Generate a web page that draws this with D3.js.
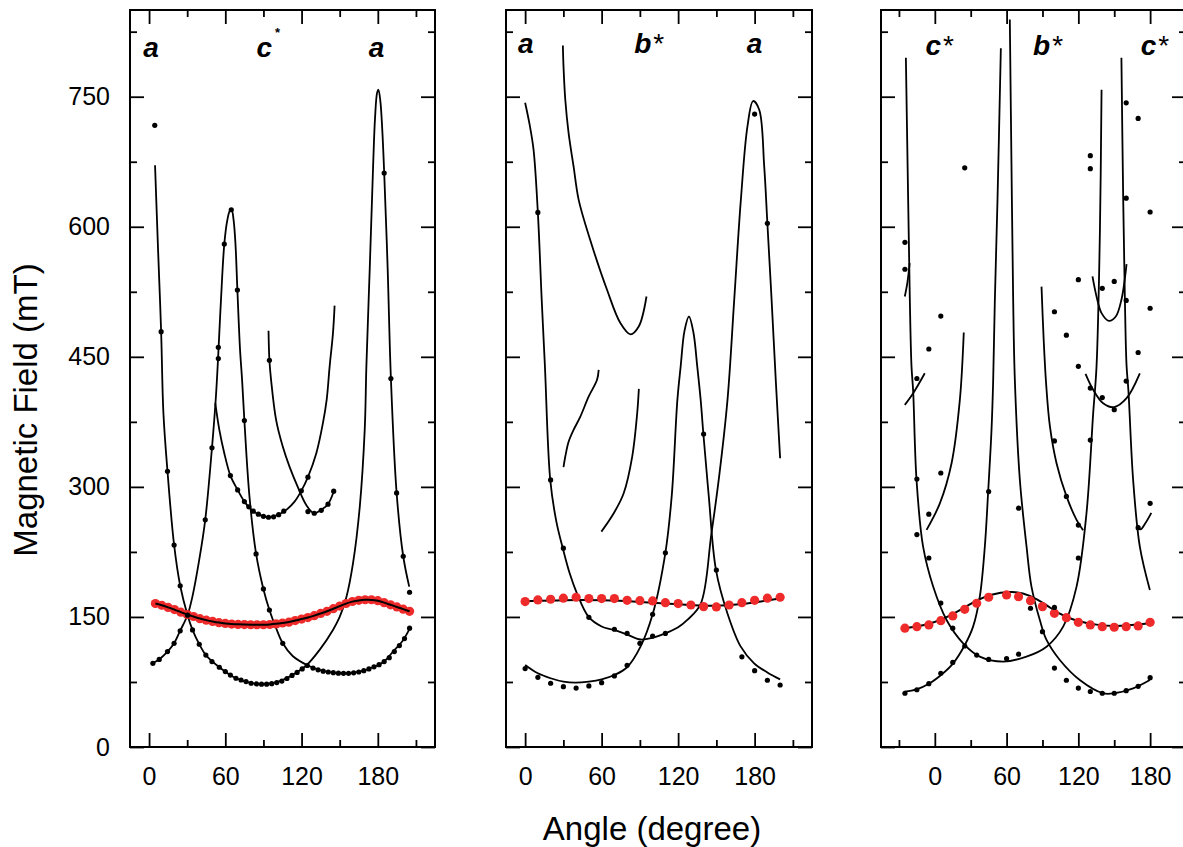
<!DOCTYPE html>
<html>
<head>
<meta charset="utf-8">
<script src="https://cdn.jsdelivr.net/npm/d3@7"></script>
<style>
  body { margin: 0; background: #fff; }
  svg { display: block; font-family: "Liberation Sans", Arial, Helvetica, sans-serif; }
</style>
</head>
<body>
<svg id="chart" width="1183" height="847"></svg>
<script>
// ---- panel 1 (a - c* - a) ----
const p1RedAngle = d3.range(5, 206, 5);
const p1RedField = [165.5,163.5,161,158.5,155.5,152.8,150.5,148,146.3,144.8,143.4,142.5,141.8,141.4,141.2,141,141,141,141.3,142,
  143,144,145.8,147.5,149.3,151.5,154,156.5,159.5,162.5,165.5,167.8,169.2,169.8,169.8,168.8,166.5,164,161.5,159,156.5];
const p1CurveA = [[4.7,671],[7.1,573],[9.5,479],[11.3,385],[14.5,318],[19.7,233],[24.5,186],[30.3,152],[34.2,135],[39.5,118.5],
  [44.7,106],[55.3,92],[68.4,79.3],[80,74],[89.5,72.7],[100,74.5],[108,79.3],[116,86],[123.7,94],[134.2,112],[144.7,135],
  [150,150],[155.3,173],[160.5,212],[165.8,277],[169.7,366],[171,439],[173.7,554],[176.3,670],[177.8,725],[179.5,755],
  [180.5,758],[182,745],[183.5,712],[185,663],[187.7,554],[190.3,425],[194.8,293],[200,220],[204.7,185]];
const p1CurveB = [[2.6,96.5],[7.9,101],[14.5,110],[19.7,119.6],[24.5,134.2],[30.3,152.3],[34.2,174],[39.5,216],[44.2,262],
  [49.5,345],[52.6,404],[54.5,454],[56.6,516],[59.2,580],[61.5,607],[63.5,618],[65,619],[66.5,608],[68,580],[69.5,527],
  [71.6,458],[73.2,423.5],[75,376.5],[79,289],[84.2,223],[90,182],[94.7,158],[100,137],[105.2,119.6],[113,105],[125,94],
  [134.2,88.8],[144.7,85.7],[155.3,85],[165.8,86.9],[176.3,92],[184.2,97.7],[192,110],[200,123.5],[205.3,137]];
const p1CurveC = [[52.1,396.5],[55.3,365.8],[59.2,338.8],[64,313],[69.7,296.5],[75,283],[80.3,274],[86.8,267.7],[94.7,265],
  [101.3,267.7],[108,273.5],[114.5,283],[119.8,295.4],[125,311.2],[131.6,338.8],[136.8,373.5],[139.8,401],[142.1,439],
  [144.7,477],[146,509]];
const p1CurveD = [[94,480],[94.7,446],[96,423.5],[100,377],[105.2,346.5],[110.5,323.4],[117,300],[123.7,279],[129.7,269.6],
  [135.5,273.5],[140.8,280],[145.3,294.6]];
const p1Dots = [[4.5,717],[9.5,479],[14.5,318],[19.7,233],[24.5,186],[30.3,152],[34.2,135],[39.5,118.5],[44.7,106],[49.5,98.5],
  [55.3,92],[60,87],[64,83],[68.4,79.3],[72.4,77.3],[76.3,75.4],[80.3,73.5],[84.5,72.7],[88.5,72.5],[92.5,72.5],[96.5,73],
  [100.5,74.3],[104.5,76],[108.5,79],[112.5,82.5],[116.5,86],[120.5,90],[124.5,94],
  [185,662],[190.3,425],[194.8,293],[200,220],[205,178.5],
  [3,96.5],[8,101],[14.5,110],[19.7,119.6],[24.5,134],[44.2,262],[49.5,345],[54.5,448],[54.5,461],[59.2,580],[64.7,619.6],
  [69.5,527],[75,376.5],[84.2,222.7],[90,182.3],[94.7,158],[105.2,119.6],[129,91],[133,89],[137,87.5],[141,86.5],[145,85.7],
  [149,85.2],[153,85],[157,85],[161,85.5],[165,86.5],[169,88],[173,90],[177,92.5],[181,95],[185,98.5],[189,103],[193,110],
  [197,117],[201,125],[205,137],
  [64,313],[69.7,296.5],[75,283],[78.5,277],[82,272],[86,268.5],[90,266],[94,265],[98,265.5],[102,268],[106,272],
  [119.8,295.4],[125,311.2],
  [94.7,446],[125,271.5],[130,269.6],[135.5,273],[140.8,280],[145.3,295]];

// ---- panel 2 (a - b* - a) ----
const p2RedAngle = d3.range(0, 201, 10);
const p2RedField = [167.7,169.6,170.4,171.6,172.7,171.2,171.2,171.2,169.2,168.8,168.5,166.5,165.4,163.8,161.9,161.5,163.8,
  166.5,169.2,171.6,172.7];
const p2Fit = [[0,168],[30,169.5],[60,169.5],[90,167.5],[120,164.5],[150,162],[170,164.5],[190,169],[200,171.5]];
const p2CurveE = [[0,743],[3.5,718],[6.6,689],[10,616],[13,516],[15.5,440],[19.7,308],[24.5,260],[29.6,229],[35,200],
  [40.7,177],[49.8,150],[60,139],[69.5,135],[79.5,130],[90.5,124],[100,126],[110,131],[120,138],[127.2,146.5],[137.7,165],
  [146,245],[152,310],[158.7,400],[164,516],[169.2,631],[174.4,716],[178.8,745],[183.6,735],[187.5,670],[190,604],
  [193.3,516],[196.7,420],[200,333]];
const p2CurveF = [[0,94.6],[10,85],[20,79.3],[30,75.4],[39.3,74.2],[50,75.4],[60,78],[70,83],[80,92],[90.5,115.7],[100,153],
  [110,224],[115,290],[119.4,400],[122,439],[125,480],[128.5,496.5],[132,478],[135,439],[137.7,400],[139.8,361],[144,290],
  [149.7,204],[158.7,154],[169,116],[179.6,96.5],[190,86],[200,78]];
const p2CurveG = [[29.6,809],[30.1,785],[31.5,746.5],[34.1,708],[38,669.6],[42,631],[51,585],[64.3,527],[74.7,489],
  [82.6,476],[89.1,485],[95.2,519.6]];
const p2CurveH = [[30.1,322.7],[31.5,335],[34.1,352],[38,365.7],[43.3,381],[49.8,404],[56.4,423.5],[57.7,435]];
const p2CurveI = [[59.8,248.4],[69.5,269.6],[77.3,292.7],[84,335],[87.9,385],[89.2,413]];
const p2Dots = [[0,90.4],[10,80.4],[20,73.5],[30,69.6],[40,68],[50,70.4],[60,74.2],[70,82],[80,94.3],[90,119.6],[100,153],
  [110,224],[20,308],[30,229.3],[50,149.6],[70,135.8],[80,131],[100,128],[110,131],[140,361],[150,204],[170,104],[180,88],
  [190,77],[200,71.5],[10,616.5],[180,730],[190,604]];

// ---- panel 3 (c* - b* - c*) ----
const p3RedAngle = [-25,-15,-5,5,15,25,35,45,60,70,80,90,100,110,120,130,140,150,160,170,180];
const p3RedField = [137,138.8,140.8,145.7,151.2,158.8,165.8,172.7,175.4,173.4,168.8,161.9,154.2,149.2,143.8,140.8,138.8,
  138.1,138.8,139.6,143.8];
const p3Fit = [[-25,137],[-9.7,139.6],[9.8,148.5],[29.3,165],[46,176.5],[65.5,180.3],[79.4,175.4],[93.4,163.8],[104.5,153],
  [115.6,146.5],[135.2,140.4],[154.7,138.8],[180,142.7]];
const p3CurveP = [[-24.2,795],[-22.3,631],[-20.9,516],[-19.5,439],[-18.1,410],[-15.3,308],[-9.8,231],[-1.4,185],[9.8,146.5],
  [23.7,119.6],[37.6,104.2],[57.1,98.5],[76.6,104.2],[93.4,115.7],[107.3,138.8],[118.5,185],[126.8,269.6],[132.4,385],
  [135.2,439],[138,593],[139.4,758]];
const p3CurvePRight = [[156,795],[157.5,631],[158.9,516],[160.3,440],[161.9,410],[165.8,308],[171.4,231],[179.8,181]];
const p3CurveQRise = [[-25.1,63.8],[-15.3,66.5],[-4.2,73.5],[6.9,85],[15.3,96.5],[25.1,117.7],[32,138.8],[37.6,173.4],
  [41.8,231],[44.6,294.6],[47.4,365.8],[48.8,423.5],[50.2,516],[52.4,631],[55.2,806]];
const p3CurveQFall = [[62.7,839],[64.1,670],[65.5,516],[66.9,423.5],[71.1,308],[76.7,231],[80.8,185],[87.8,146.5],
  [93.4,123.5],[104.5,100.4],[121.2,77.3],[140.7,62],[150,62],[165.8,67.7],[179.8,77.3]];
const p3CurveR = [[89.2,531],[91,470],[93,420],[96.2,370],[101.8,327],[110.1,289],[118.5,262],[124,250]];
const p3Bowl1 = [[131.8,542.7],[135.2,519.6],[139.4,500.4],[145.5,491.5],[151.3,496.5],[156,515.8],[160.3,557]];
const p3Bowl2 = [[126,430.4],[132.4,412],[140.7,396.5],[149.9,392],[160.3,402.3],[171.4,431]];
const p3SegS1 = [[-25.1,519.6],[-23,535],[-21,558]];
const p3SegS2 = [[-25.1,394.6],[-18.1,408],[-8.4,431]];
const p3SegS3 = [[-6.9,250.4],[4.2,281],[14,327.3],[20.9,400],[24.2,478]];
const p3SegS4 = [[169.5,256],[172,251],[176,258],[181,270]];
const p3Dots = [[-25,582],[-25,551],[25,668],[130,682],[130,667],[160,743],[170,725],[160,633],[180,617],
  [5,497],[-5,459],[-15,425],[120,539],[140,529],[150,537],[160,515],[180,506],[100,502],[110,475],[120,439],[170,455],
  [130,414],[140,403],[150,389],[160,422],[-15,309],[5,316],[-5,268.5],[-15,245],[45,294.6],[70,275.4],
  [100,353],[110,289],[120,256],[120,218],[130,354],[170,253],[180,281],
  [-5,218],[5,166],[15,137],[25,116.5],[35,106],[45,101],[60,102],[70,107],[80,160],[90,133],[100,161],
  [100,91],[110,77],[120,68],[130,64],[140,62],[150,62],[160,65],[170,70],[180,80],
  [-25,62],[-15,66],[-5,73],[5,85],[15,97.5]];

// ---- axes ----
const yMajor = [0, 150, 300, 450, 600, 750];
const yMinor = [75, 225, 375, 525, 675, 825];

const panels = [
  { left: 130, right: 435, domain: [-15, 225], xMajor: [0, 60, 120, 180], xMinor: [30, 90, 150, 210], yLabels: true,
    red: d3.zip(p1RedAngle, p1RedField), fit: d3.zip(p1RedAngle, p1RedField), fitOnTop: true,
    curves: [p1CurveA, p1CurveB, p1CurveC, p1CurveD], dots: p1Dots,
    labels: [{t: "a", a: 1.5, y: 57}, {t: "c", a: 90, y: 57, star: "small"}, {t: "a", a: 179, y: 57}] },
  { left: 506, right: 812, domain: [-15, 225], xMajor: [0, 60, 120, 180], xMinor: [30, 90, 150, 210], yLabels: false,
    red: d3.zip(p2RedAngle, p2RedField), fit: p2Fit, fitOnTop: false,
    curves: [p2CurveE, p2CurveF, p2CurveG, p2CurveH, p2CurveI], dots: p2Dots,
    labels: [{t: "a", a: 0.5, y: 53}, {t: "b", a: 91, y: 53, star: "big"}, {t: "a", a: 180, y: 53}] },
  { left: 881, right: 1186, domain: [-45, 210], xMajor: [0, 60, 120, 180], xMinor: [-30, 30, 90, 150], yLabels: false,
    red: d3.zip(p3RedAngle, p3RedField), fit: p3Fit, fitOnTop: false,
    curves: [p3CurveP, p3CurvePRight, p3CurveQRise, p3CurveQFall, p3CurveR, p3Bowl1, p3Bowl2, p3SegS1, p3SegS2, p3SegS3, p3SegS4],
    dots: p3Dots,
    labels: [{t: "c", a: -2, y: 55, star: "big"}, {t: "b", a: 88, y: 55, star: "big"}, {t: "c", a: 178, y: 55, star: "big"}] }
];

const svg = d3.select("#chart");
const y = d3.scaleLinear([0, 850], [747, 10]);
const FONT = '"Liberation Sans", Arial, Helvetica, sans-serif';

panels.forEach((p, i) => {
  const x = d3.scaleLinear(p.domain, [p.left, p.right]);
  const g = svg.append("g");

  svg.append("clipPath").attr("id", "clip" + i)
    .append("rect")
      .attr("x", p.left).attr("y", y(850))
      .attr("width", p.right - p.left).attr("height", y(0) - y(850));

  const plot = g.append("g").attr("clip-path", `url(#clip${i})`);
  const line = d3.line().x(d => x(d[0])).y(d => y(d[1])).curve(d3.curveCatmullRom.alpha(0.5));
  const fitLine = d3.line().x(d => x(d[0])).y(d => y(d[1])).curve(d3.curveBasis);

  plot.append("g")
    .selectAll("path")
    .data(p.curves)
    .join("path")
      .attr("fill", "none")
      .attr("stroke", "#000")
      .attr("stroke-width", 1.8)
      .attr("d", line);

  const drawFit = () => plot.append("path")
      .attr("fill", "none")
      .attr("stroke", "#000")
      .attr("stroke-width", 2)
      .attr("d", fitLine(p.fit));

  if (!p.fitOnTop) drawFit();

  plot.append("g")
      .attr("fill", "#ee2a2a")
    .selectAll("circle")
    .data(p.red)
    .join("circle")
      .attr("cx", d => x(d[0]))
      .attr("cy", d => y(d[1]))
      .attr("r", 4.6);

  if (p.fitOnTop) drawFit();

  plot.append("g")
      .attr("fill", "#000")
    .selectAll("circle")
    .data(p.dots)
    .join("circle")
      .attr("cx", d => x(d[0]))
      .attr("cy", d => y(d[1]))
      .attr("r", 2.6);

  // axes, ticks pointing inward
  const styleAxis = a => {
    a.select(".domain").remove();
    a.selectAll("line").attr("stroke-width", 1.8);
    a.attr("font-size", 25).attr("font-family", FONT);
    a.selectAll("text").attr("fill", "#000");
  };

  g.append("g").attr("transform", `translate(0,${y(0)})`)
    .call(d3.axisBottom(x).tickValues(p.xMajor).tickSize(-14).tickPadding(20).tickFormat(d3.format("d")))
    .call(styleAxis);
  g.append("g").attr("transform", `translate(0,${y(0)})`)
    .call(d3.axisBottom(x).tickValues(p.xMinor).tickSize(-7).tickFormat(""))
    .call(styleAxis);
  g.append("g").attr("transform", `translate(0,${y(850)})`)
    .call(d3.axisTop(x).tickValues(p.xMajor).tickSize(-14).tickFormat(""))
    .call(styleAxis);
  g.append("g").attr("transform", `translate(0,${y(850)})`)
    .call(d3.axisTop(x).tickValues(p.xMinor).tickSize(-7).tickFormat(""))
    .call(styleAxis);

  g.append("g").attr("transform", `translate(${p.left},0)`)
    .call(d3.axisLeft(y).tickValues(yMajor).tickSize(-14).tickPadding(20).tickFormat(p.yLabels ? d3.format("d") : ""))
    .call(styleAxis);
  g.append("g").attr("transform", `translate(${p.left},0)`)
    .call(d3.axisLeft(y).tickValues(yMinor).tickSize(-7).tickFormat(""))
    .call(styleAxis);
  g.append("g").attr("transform", `translate(${p.right},0)`)
    .call(d3.axisRight(y).tickValues(yMajor).tickSize(-14).tickFormat(""))
    .call(styleAxis);
  g.append("g").attr("transform", `translate(${p.right},0)`)
    .call(d3.axisRight(y).tickValues(yMinor).tickSize(-7).tickFormat(""))
    .call(styleAxis);

  g.append("rect")
      .attr("x", p.left).attr("y", y(850))
      .attr("width", p.right - p.left).attr("height", y(0) - y(850))
      .attr("fill", "none")
      .attr("stroke", "#000")
      .attr("stroke-width", 2);

  // crystal axis labels
  p.labels.forEach(l => {
    const t = g.append("text")
        .attr("x", x(l.a))
        .attr("y", l.y)
        .attr("text-anchor", l.star ? "start" : "middle")
        .attr("font-size", 28)
        .attr("font-weight", "bold")
        .attr("font-style", "italic")
        .attr("dx", l.star ? -7 : 0)
        .text(l.t);
    if (l.star === "small") {
      t.append("tspan").attr("font-size", 13).attr("dx", 3).attr("dy", -20).attr("font-style", "normal").text("*");
    } else if (l.star === "big") {
      t.append("tspan").attr("dx", 2).attr("font-weight", "normal").attr("font-style", "normal").text("*");
    }
  });
});

svg.append("text")
    .attr("transform", "translate(37,410) rotate(-90)")
    .attr("text-anchor", "middle")
    .attr("font-size", 33)
    .text("Magnetic Field (mT)");

svg.append("text")
    .attr("x", 652)
    .attr("y", 840)
    .attr("text-anchor", "middle")
    .attr("font-size", 33)
    .text("Angle (degree)");
</script>
</body>
</html>
